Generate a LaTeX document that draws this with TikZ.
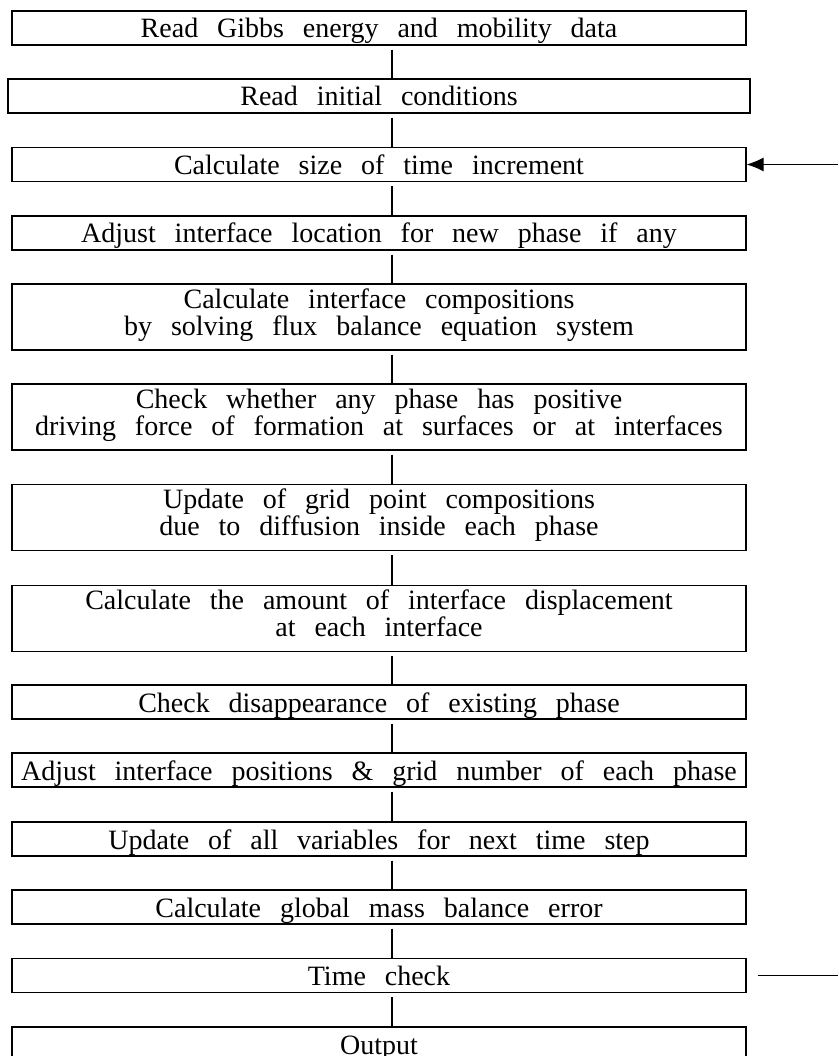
\documentclass[tikz,border=0pt]{standalone}
\usepackage{fontspec}
\setmainfont{Liberation Serif}[WordSpace=2.7]
\usetikzlibrary{arrows.meta}
\begin{document}
\begin{tikzpicture}[x=1pt,y=-1pt,
    stepbox/.style={draw,line width=1.1pt,rectangle,inner sep=0pt,
      minimum width=734pt,minimum height=34pt,align=center,
      text height=22pt,text depth=2pt,
      font=\fontsize{28}{27}\selectfont},
    twobox/.style={stepbox,minimum height=66pt,text height=43pt,text depth=7pt}]
      \useasboundingbox (0,0) rectangle (838,1056);
      \node[stepbox] (read) at (379,28) {Read Gibbs energy and mobility data};
      \node[stepbox,minimum width=742pt] (init) at (379,96) {Read initial conditions};
      \node[stepbox] (dt) at (379,164.5) {Calculate size of time increment};
      \node[stepbox] (newloc) at (379,233) {Adjust interface location for new phase if any};
      \node[twobox] (flux) at (379,317) {Calculate interface compositions\\by solving flux balance equation system};
      \node[twobox] (drive) at (379,417) {Check whether any phase has positive\\driving force of formation at surfaces or at interfaces};
      \node[twobox] (grid) at (379,517.5) {Update of grid point compositions\\due to diffusion inside each phase};
      \node[twobox] (disp) at (379,618.5) {Calculate the amount of interface displacement\\at each interface};
      \node[stepbox] (vanish) at (379,702) {Check disappearance of existing phase};
      \node[stepbox] (adjust) at (379,770) {Adjust interface positions \& grid number of each phase};
      \node[stepbox] (update) at (379,839) {Update of all variables for next time step};
      \node[stepbox] (mass) at (379,907) {Calculate global mass balance error};
      \node[stepbox] (tcheck) at (379,975.5) {Time check};
      \node[stepbox] (out) at (379,1044) {Output};
      % vertical links
      \foreach \a/\b in {read/init,init/dt,dt/newloc,newloc/flux,flux/drive,drive/grid,
          grid/disp,disp/vanish,vanish/adjust,adjust/update,update/mass,mass/tcheck,tcheck/out}
        \draw[line width=1.1pt] ([xshift=13pt,yshift=-4pt]\a.south) -- ([xshift=13pt]\b.north);
      % loop back
      \coordinate (loopin) at (838,164.5);
      \coordinate (loopout) at (838,975.5);
      \draw[line width=1.1pt,-{Latex[length=17pt,width=14pt]}] (loopin) -- (dt.east);
      \draw[line width=1.1pt] ([xshift=11pt]tcheck.east) -- (loopout);
    \end{tikzpicture}
\end{document}
